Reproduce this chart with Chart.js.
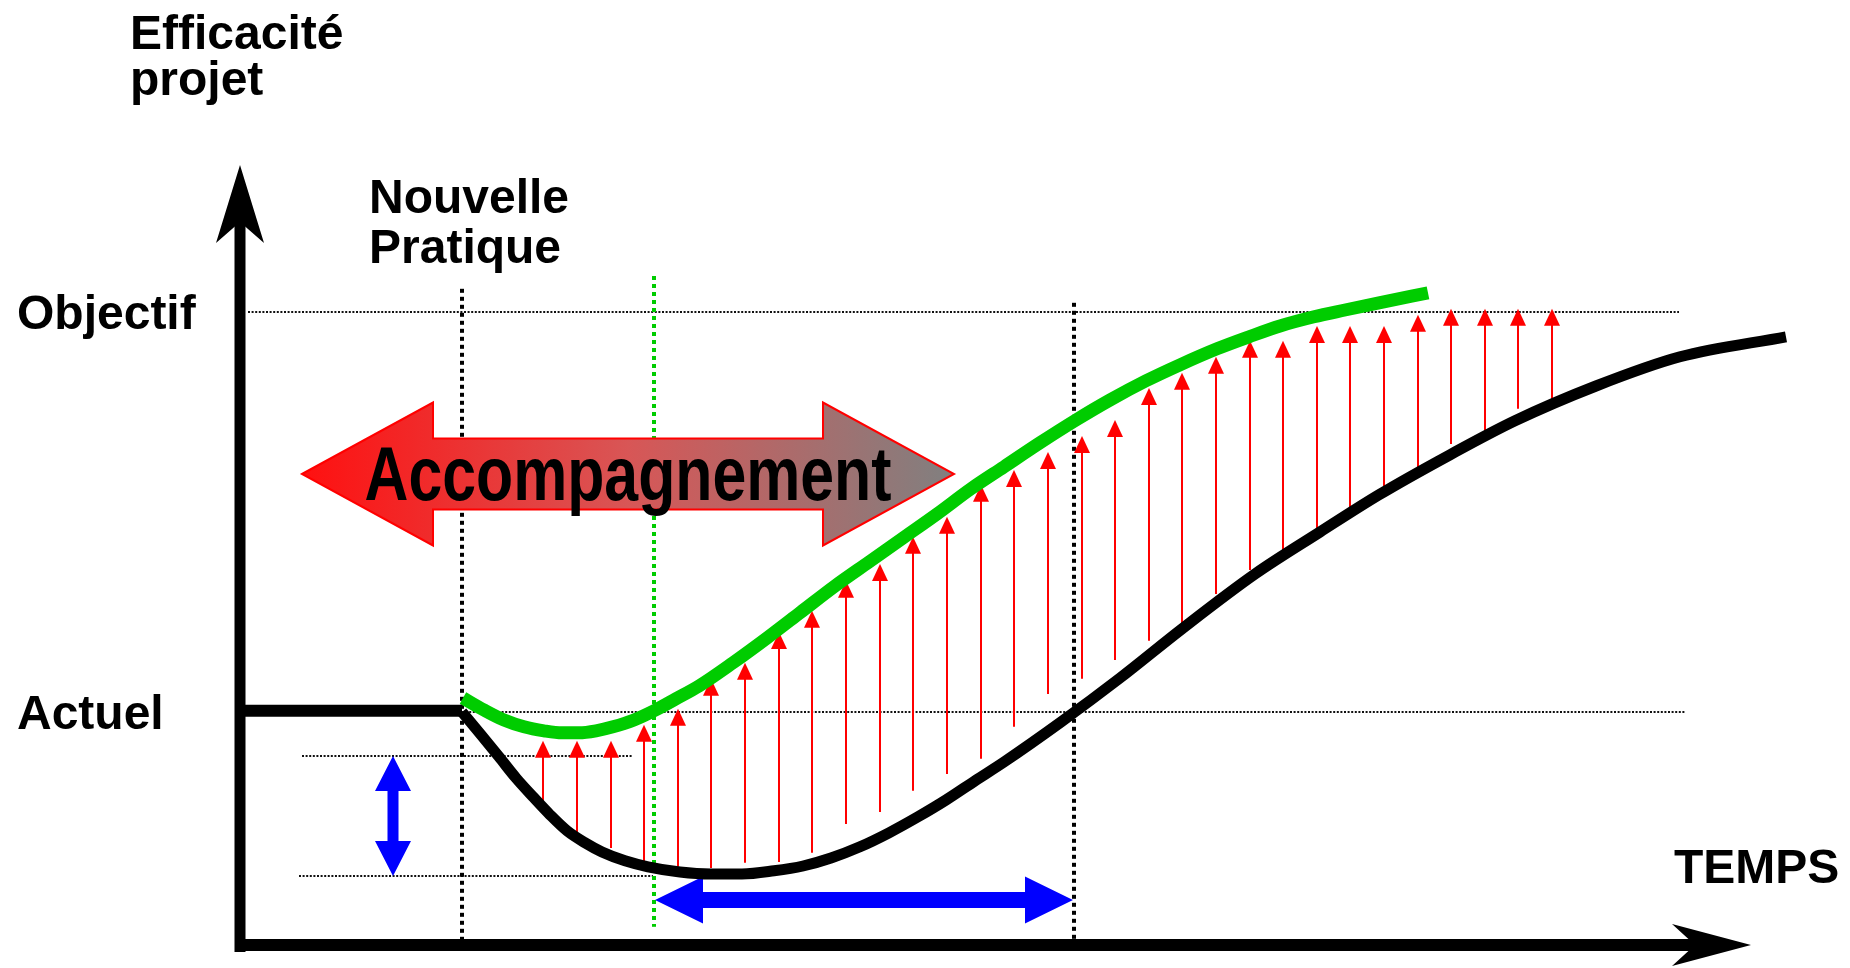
<!DOCTYPE html>
<html>
<head>
<meta charset="utf-8">
<title>Efficacité projet</title>
<script src="https://cdn.jsdelivr.net/npm/chart.js@4.4.1/dist/chart.umd.min.js"></script>
<style>
  html, body { margin: 0; padding: 0; background: #fff; }
  #wrap { width: 1850px; height: 968px; }
</style>
</head>
<body>
<div id="wrap"><canvas id="courbe" width="1850" height="968"></canvas></div>
<script>
// niveaux d'efficacité
const levelNames = ['Actuel', 'Objectif'];
const levelValues = [100, 200];

// pratique actuelle, avant le changement
const beforeT = [0.5, 22.2];
const beforeV = [100.3, 100.3];

// nouvelle pratique sans accompagnement (courbe noire)
const blackT = [22.2, 24.1, 25.9, 27.6, 29.3, 31.0, 32.7, 34.5, 36.2, 38.5, 40.8, 44.0, 47.1, 50.2, 53.4,
  56.3, 59.1, 62.0, 64.9, 67.8, 70.6, 73.5, 76.4, 82.1, 88.0, 94.2, 101.5, 108.0, 113.9, 121.0,
  127.5, 135.6, 144.0, 154.6];
const blackV = [100, 94.3, 88.8, 83.5, 78.8, 74.3, 70.3, 67.3, 65, 62.8, 61.3, 60, 59.5, 59.5, 60.3,
  61.5, 63.5, 66.3, 69.8, 73.8, 78, 82.8, 87.5, 97.5, 108.5, 120.8, 134.5, 145, 154.3, 164.3,
  172.8, 181.5, 188.8, 193.8];

// nouvelle pratique avec accompagnement (courbe verte)
const greenT = [22.3, 24.4, 26.4, 28.4, 30.4, 32.2, 33.9, 35.6, 37.3, 39.4, 41.4, 43.6, 45.9, 49.3, 52.7,
  56.1, 59.5, 62.9, 66.3, 69.7, 73.1, 76.4, 80.0, 83.6, 87.0, 90.6, 94.0, 97.7, 100.9, 104.0,
  107.4, 110.5, 113.9, 118.8];
const greenV = [103.5, 100.5, 98, 96.3, 95.3, 94.8, 94.8, 95.3, 96.3, 98, 100.3, 103.3, 106.5, 112.3, 118.5,
  125, 131.5, 137.5, 143.5, 149.5, 155.8, 161.3, 167.3, 173, 178, 182.8, 186.8, 190.8, 193.8, 196.5,
  198.8, 200.5, 202.3, 204.8];

// gain apporté (flèches rouges)
const gainT = [30.3, 33.7, 37.1, 40.4, 43.8, 47.1, 50.5, 53.9, 57.2, 60.6, 64.0, 67.3, 70.7, 74.1, 77.4,
  80.8, 84.2, 87.5, 90.9, 94.2, 97.6, 101.0, 104.3, 107.7, 111.0, 114.4, 117.8, 121.1, 124.5, 127.8, 131.2];
const gainFrom = [77.3, 69.3, 66, 62.3, 61.3, 61, 62.3, 62.5, 64.8, 72, 75, 80.3, 84.5, 88.3, 96.3,
  104.5, 108.3, 113, 117.8, 121.8, 129.5, 135.5, 140.3, 145.3, 149.5, 155.8, 160.8, 167, 169.5, 175.8, 178.3];
const gainTo = [92.8, 92.8, 92.8, 96.8, 100.8, 108.3, 112.3, 120, 125.3, 132.8, 137, 143.8, 148.8, 156.8, 160.5,
  165, 169, 173, 181, 184.8, 188.8, 192.8, 192.8, 196.5, 196.5, 196.5, 199.3, 200.8, 200.8, 200.8, 200.8];

// creux de performance
const dipLevels = [89, 59];

// repères : nouvelle pratique, début accompagnement, retour au niveau actuel
const markerT = [22.2, 41.4, 83.4];

function pts(ts, vs) {
    return ts.map(function(t, i) { return { x: t, y: vs[i] }; });
}

// mise en page (unités des axes)
const axisV = 41.75;
const axisTopV = 236.75;
const axisEndT = 151.1;
const guides = [
    { v: levelValues[1], t0: 0.8, t1: 143.9 },
    { v: levelValues[0], t0: 22.2, t1: 144.5 },
    { v: dipLevels[0], t0: 6.2, t1: 39.2 },
    { v: dipLevels[1], t0: 5.9, t1: 41.3 }
];
const markerTop = [205.8, 209, 202.3];
const markerBottom = [axisV, 46.3, axisV];
const markerColor = ['#000', '#00cc00', '#000'];

function doubleArrowH(ctx, x0, x1, y, hl, hh, sh) {
    ctx.beginPath();
    ctx.moveTo(x0, y);
    ctx.lineTo(x0 + hl, y - hh);
    ctx.lineTo(x0 + hl, y - sh);
    ctx.lineTo(x1 - hl, y - sh);
    ctx.lineTo(x1 - hl, y - hh);
    ctx.lineTo(x1, y);
    ctx.lineTo(x1 - hl, y + hh);
    ctx.lineTo(x1 - hl, y + sh);
    ctx.lineTo(x0 + hl, y + sh);
    ctx.lineTo(x0 + hl, y + hh);
    ctx.closePath();
}

function doubleArrowV(ctx, x, y0, y1, hl, hw, sw) {
    ctx.beginPath();
    ctx.moveTo(x, y0);
    ctx.lineTo(x + hw, y0 + hl);
    ctx.lineTo(x + sw, y0 + hl);
    ctx.lineTo(x + sw, y1 - hl);
    ctx.lineTo(x + hw, y1 - hl);
    ctx.lineTo(x, y1);
    ctx.lineTo(x - hw, y1 - hl);
    ctx.lineTo(x - sw, y1 - hl);
    ctx.lineTo(x - sw, y0 + hl);
    ctx.lineTo(x - hw, y0 + hl);
    ctx.closePath();
}

const schema = {
    id: 'schema',
    beforeDatasetsDraw(chart) {
        const ctx = chart.ctx;
        const X = function(t) { return chart.scales.x.getPixelForValue(t); };
        const Y = function(v) { return chart.scales.y.getPixelForValue(v); };
        ctx.save();

        // lignes pointillées horizontales
        ctx.strokeStyle = '#111';
        ctx.lineWidth = 2;
        ctx.setLineDash([2, 1.6]);
        guides.forEach(function(g) {
            ctx.beginPath();
            ctx.moveTo(X(g.t0), Math.round(Y(g.v)));
            ctx.lineTo(X(g.t1), Math.round(Y(g.v)));
            ctx.stroke();
        });

        // repères verticaux
        ctx.lineWidth = 4;
        ctx.setLineDash([4, 4]);
        markerT.forEach(function(t, i) {
            ctx.strokeStyle = markerColor[i];
            ctx.beginPath();
            ctx.moveTo(Math.round(X(t)), Y(markerTop[i]));
            ctx.lineTo(Math.round(X(t)), Y(markerBottom[i]));
            ctx.stroke();
        });
        ctx.setLineDash([]);

        // flèches rouges
        ctx.strokeStyle = '#ff0000';
        ctx.fillStyle = '#ff0000';
        ctx.lineWidth = 2;
        gainT.forEach(function(t, i) {
            const x = X(t), y0 = Y(gainFrom[i]), y1 = Y(gainTo[i]);
            ctx.beginPath();
            ctx.moveTo(x, y0);
            ctx.lineTo(x, y1 + 14);
            ctx.stroke();
            ctx.beginPath();
            ctx.moveTo(x, y1);
            ctx.lineTo(x + 8, y1 + 17);
            ctx.lineTo(x - 8, y1 + 17);
            ctx.closePath();
            ctx.fill();
        });

        // flèches bleues
        ctx.fillStyle = '#0000ff';
        doubleArrowV(ctx, X(15.3), Y(dipLevels[0]), Y(dipLevels[1]), 35, 18, 5.5);
        ctx.fill();
        doubleArrowH(ctx, X(markerT[1] + 0.1), X(markerT[2] - 0.1), Y(53), 48, 23.5, 8);
        ctx.fill();

        ctx.restore();
    },
    afterDatasetsDraw(chart) {
        const ctx = chart.ctx;
        const X = function(t) { return chart.scales.x.getPixelForValue(t); };
        const Y = function(v) { return chart.scales.y.getPixelForValue(v); };
        ctx.save();

        // grande flèche "Accompagnement"
        const ax0 = X(6.2), ax1 = X(71.4), ay = Y(159.5);
        const grad = ctx.createLinearGradient(ax0, 0, ax1, 0);
        grad.addColorStop(0, '#ff1010');
        grad.addColorStop(0.5, '#d85656');
        grad.addColorStop(1, '#808080');
        doubleArrowH(ctx, ax0, ax1, ay, 131, 71.5, 35.5);
        ctx.fillStyle = grad;
        ctx.fill();
        ctx.strokeStyle = '#ff0000';
        ctx.lineWidth = 2;
        ctx.stroke();

        ctx.fillStyle = '#000';
        ctx.font = 'bold 76px "Liberation Sans Narrow", "Liberation Sans", Arial, sans-serif';
        ctx.textAlign = 'center';
        ctx.textBaseline = 'alphabetic';
        const w = ctx.measureText('Accompagnement').width;
        ctx.save();
        ctx.translate((ax0 + ax1) / 2, ay + 26);
        ctx.scale(527 / w, 1);
        ctx.fillText('Accompagnement', 0, 0);
        ctx.restore();

        // axes
        const ox = X(0), oy = Y(axisV);
        ctx.fillStyle = '#000';
        ctx.fillRect(ox - 5.5, Y(axisTopV) + 55, 11, oy - Y(axisTopV) - 55 + 7);
        const ty = Y(axisTopV);
        ctx.beginPath();
        ctx.moveTo(ox, ty);
        ctx.lineTo(ox + 24, ty + 78);
        ctx.lineTo(ox, ty + 57);
        ctx.lineTo(ox - 24, ty + 78);
        ctx.closePath();
        ctx.fill();

        const tx = X(axisEndT);
        ctx.fillRect(ox - 5, oy - 6, tx - 55 - ox + 5, 12);
        ctx.beginPath();
        ctx.moveTo(tx, oy);
        ctx.lineTo(tx - 79, oy - 21);
        ctx.lineTo(tx - 56, oy);
        ctx.lineTo(tx - 79, oy + 21);
        ctx.closePath();
        ctx.fill();

        // textes
        ctx.textAlign = 'left';
        ctx.font = 'bold 48px "Liberation Sans", Arial, sans-serif';
        ctx.fillText('Efficacité', 130, 49);
        ctx.fillText('projet', 130, 95);
        ctx.fillText('Nouvelle', 369, 213);
        ctx.fillText('Pratique', 369, 263);
        levelNames.forEach(function(name, i) {
            ctx.fillText(name, 17, Y(levelValues[i]) + 17);
        });
        ctx.fillText('TEMPS', 1674, 883);

        ctx.restore();
    }
};

new Chart(document.getElementById('courbe'), {
    type: 'scatter',
    data: {
        datasets: [{
            label: 'Avant',
            data: pts(beforeT, beforeV),
            showLine: true,
            borderColor: '#000',
            borderWidth: 12,
            pointRadius: 0
        }, {
            label: 'Sans accompagnement',
            data: pts(blackT, blackV),
            showLine: true,
            borderColor: '#000',
            borderWidth: 11,
            pointRadius: 0,
            cubicInterpolationMode: 'monotone'
        }, {
            label: 'Avec accompagnement',
            data: pts(greenT, greenV),
            showLine: true,
            borderColor: '#00cc00',
            borderWidth: 13,
            pointRadius: 0,
            cubicInterpolationMode: 'monotone'
        }]
    },
    options: {
        responsive: false,
        animation: false,
        events: [],
        layout: { padding: 0 },
        plugins: {
            legend: { display: false },
            tooltip: { enabled: false }
        },
        scales: {
            x: { type: 'linear', display: false, min: -24, max: 161 },
            y: { type: 'linear', display: false, min: 36, max: 278 }
        }
    },
    plugins: [schema]
});
</script>
</body>
</html>
